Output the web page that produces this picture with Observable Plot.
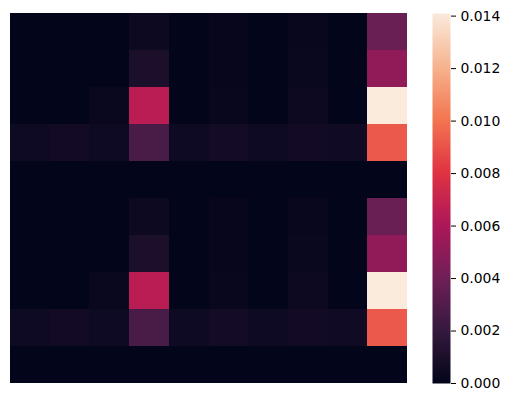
<!DOCTYPE html>
<html>
<head>
<meta charset="utf-8">
<script src="https://cdn.jsdelivr.net/npm/d3@7"></script>
<script src="https://cdn.jsdelivr.net/npm/@observablehq/plot@0.6"></script>
<style>
  html, body { margin: 0; padding: 0; background: #fff; }
  #wrap { position: relative; width: 509px; height: 401px; }
  #wrap > svg { position: absolute; left: 0; top: 0; }
</style>
</head>
<body>
<div id="wrap"></div>
<script>
// Heatmap values (10 rows x 10 columns)
const row0 = [0, 0, 0, 0.0004, 0, 0.00015, 0, 0.0002, 0, 0.0038];
const row1 = [0, 0, 0, 0.00097, 0, 0.00015, 0, 0.0003, 0, 0.0051];
const row2 = [0, 0, 0.0003, 0.0065, 0, 0.0002, 0, 0.0004, 0, 0.0141];
const row3 = [0.0005, 0.00065, 0.0005, 0.0027, 0.0005, 0.00068, 0.0005, 0.00065, 0.00055, 0.0092];
const row4 = [0, 0, 0, 0, 0, 0, 0, 0, 0, 0];
const row5 = [0, 0, 0, 0.0004, 0, 0.00015, 0, 0.0002, 0, 0.0038];
const row6 = [0, 0, 0, 0.00097, 0, 0.00015, 0, 0.0003, 0, 0.0051];
const row7 = [0, 0, 0.0003, 0.0065, 0, 0.0002, 0, 0.0004, 0, 0.0141];
const row8 = [0.0005, 0.00065, 0.0005, 0.0027, 0.0005, 0.00068, 0.0005, 0.00065, 0.00055, 0.0092];
const row9 = [0, 0, 0, 0, 0, 0, 0, 0, 0, 0];
const rowsData = [row0, row1, row2, row3, row4, row5, row6, row7, row8, row9];

const rowIds = d3.range(10);
const colIds = d3.range(10);
const vmin = 0;
const vmax = 0.0141;
const cbTicks = [0, 0.002, 0.004, 0.006, 0.008, 0.010, 0.012, 0.014];

// seaborn "rocket" colormap stops
const rocketStops = ["#03051a", "#35193e", "#701f57", "#ad1759", "#e13342", "#f37651", "#f6b48f", "#faebdd"];
const rocket = d3.piecewise(d3.interpolateRgb, rocketStops);

const cells = [];
rowsData.forEach((r, i) => r.forEach((v, j) => cells.push({row: i, col: j, value: v})));

const font = {fontFamily: "'DejaVu Sans', sans-serif", fontSize: "13.9px", color: "#000", background: "transparent"};

const heat = Plot.plot({
  width: 509, height: 401,
  marginLeft: 10, marginRight: 102, marginTop: 13, marginBottom: 18,
  style: font,
  x: {type: "band", domain: colIds, padding: 0, round: false, axis: null},
  y: {type: "band", domain: rowIds, padding: 0, round: false, axis: null},
  color: {type: "linear", domain: [vmin, vmax], interpolate: rocket, clamp: true},
  marks: [
    Plot.cell(cells, {x: "col", y: "row", fill: "value", inset: 0, shapeRendering: "crispEdges"})
  ]
});

const bar = Plot.plot({
  width: 509, height: 401,
  marginLeft: 432, marginRight: 59, marginTop: 13, marginBottom: 18,
  style: font,
  x: {domain: [0, 1], axis: null},
  y: {domain: [vmin, vmax], axis: null},
  color: {type: "linear", domain: [vmin, vmax], interpolate: rocket, clamp: true},
  marks: [
    Plot.raster({x1: 0, x2: 1, y1: vmin, y2: vmax, fill: (x, y) => y, pixelSize: 1}),
    Plot.axisY(cbTicks, {anchor: "right", tickSize: 5, tickPadding: 5, tickFormat: d3.format(".3f"), stroke: "#000", fill: "#000"})
  ]
});

const wrap = document.getElementById("wrap");
wrap.appendChild(heat);
wrap.appendChild(bar);
</script>
</body>
</html>
